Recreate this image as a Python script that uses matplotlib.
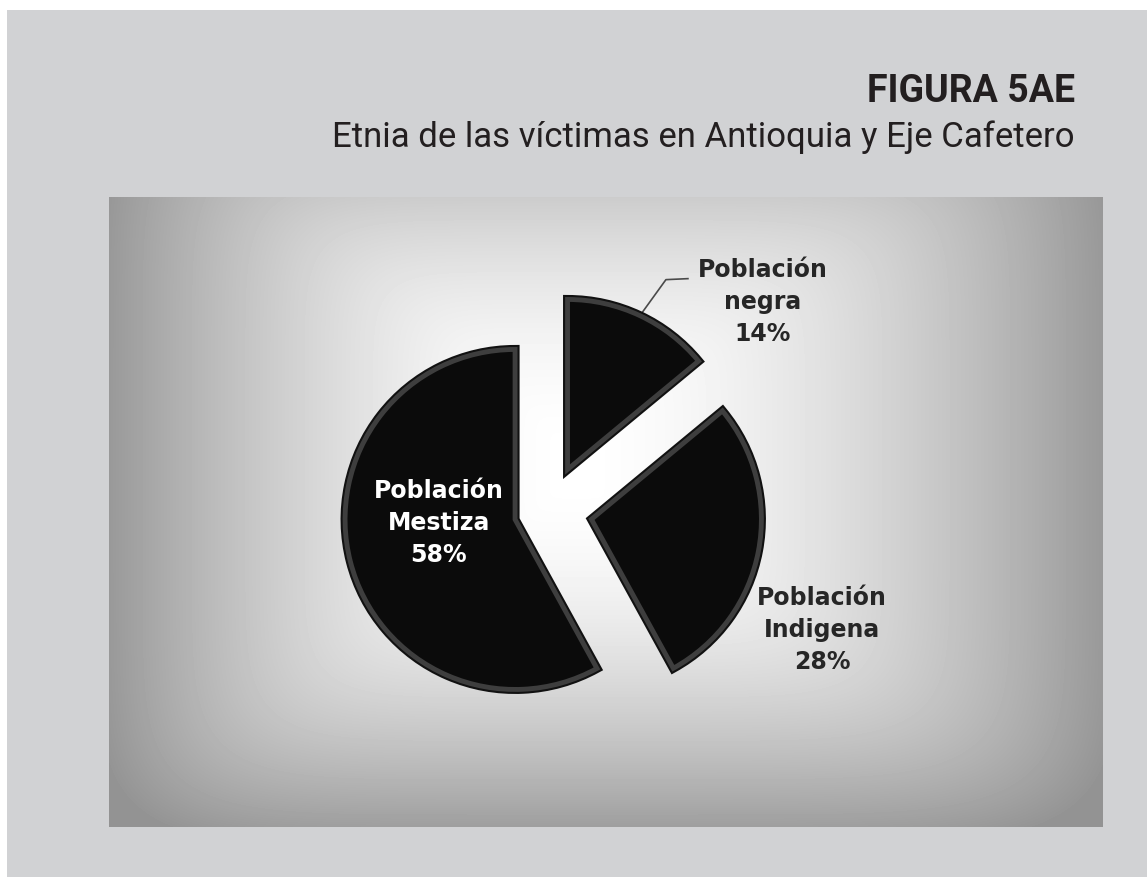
import numpy as np
import matplotlib.pyplot as plt
from matplotlib.patches import Rectangle
import matplotlib.patheffects as pe

# data
groups = ["Población\nMestiza", "Población\nIndigena", "Población\nnegra"]
shares = [58, 28, 14]
explode_frac = [0.20, 0.26, 0.27]

title = "FIGURA 5AE"
subtitle = "Etnia de las víctimas en Antioquia y Eje Cafetero"

W, H = 1147, 877
fig = plt.figure(figsize=(W / 100, H / 100), dpi=100, facecolor="white")
ax = fig.add_axes([0, 0, 1, 1])


def Y(y):
    # image row -> data y
    return H - y


# page background
ax.add_patch(Rectangle((7, 0), W - 7, H - 10, facecolor="#d1d2d4", edgecolor="none", zorder=0))

# chart box with soft gradient
bx0, bx1, by0, by1 = 109, 1103, 197, 827
cx, cy = 575, 470
xs = np.arange(bx0, bx1)
ys = np.arange(by0, by1)
gx, gy = np.meshgrid(xs, ys)
nx = np.where(gx < cx, (cx - gx) / (cx - bx0), (gx - cx) / (bx1 - cx))
ny_up = np.clip((cy - gy) / (cy - by0), 0, 1)
ny_dn = np.clip((gy - cy) / (by1 - cy), 0, 1)
dx = 0.40 * nx ** 1.6
dy = np.maximum(0.20 * ny_up ** 2, 0.38 * ny_dn ** 1.8)
k = 4.0
dark = np.clip((dx ** k + dy ** k) ** (1 / k), 0, 0.42)
img = 1 - dark
ax.imshow(img, extent=(bx0, bx1, Y(by1), Y(by0)), cmap="gray", vmin=0, vmax=1,
          aspect="auto", interpolation="bilinear", zorder=1)

# pie
R = 170
center = (548, Y(511))
wedges, _ = ax.pie(shares, explode=[e * R for e in explode_frac], center=center, radius=R,
                   startangle=90, counterclock=True, frame=True,
                   wedgeprops=dict(facecolor="#0b0b0b", edgecolor="#3e3e3e", linewidth=3.5))
for w in wedges:
    w.set_zorder(3)
    w.set_path_effects([pe.Stroke(linewidth=6.5, foreground="#111111"), pe.Normal()])
ax.set_xlim(0, W)
ax.set_ylim(0, H)
ax.set_aspect("auto")
ax.axis("off")

lab_font = dict(fontsize=17, fontweight="bold", family="DejaVu Sans",
                ha="center", va="center", linespacing=1.4)

# Mestiza label (inside, white)
ax.text(439, Y(523), f"{groups[0]}\n{shares[0]}%", color="white", zorder=4, **lab_font)
# Indigena label (partly behind the wedge)
ax.text(822, Y(630), f"{groups[1]}\n{shares[1]}%", color="#262626", zorder=2, **lab_font)
# negra label with leader line from the arc midpoint
wn = wedges[2]
tm = np.deg2rad((wn.theta1 + wn.theta2) / 2)
p0 = (wn.center[0] + R * np.cos(tm), wn.center[1] + R * np.sin(tm))
ax.plot([p0[0], p0[0] + 26, p0[0] + 48], [p0[1], p0[1] + 36, p0[1] + 37],
        color="#4a4a4a", lw=1.2, zorder=2)
ax.text(763, Y(302), f"{groups[2]}\n{shares[2]}%", color="#262626", zorder=4, **lab_font)

# titles
ax.text(1075, Y(102), title, ha="right", va="baseline", fontsize=27,
        fontweight="bold", family="Roboto", color="#231f20")
ax.text(1075, Y(147), subtitle, ha="right", va="baseline", fontsize=25,
        family="Roboto", color="#231f20")

fig.savefig("out.png", dpi=100, facecolor="white")
